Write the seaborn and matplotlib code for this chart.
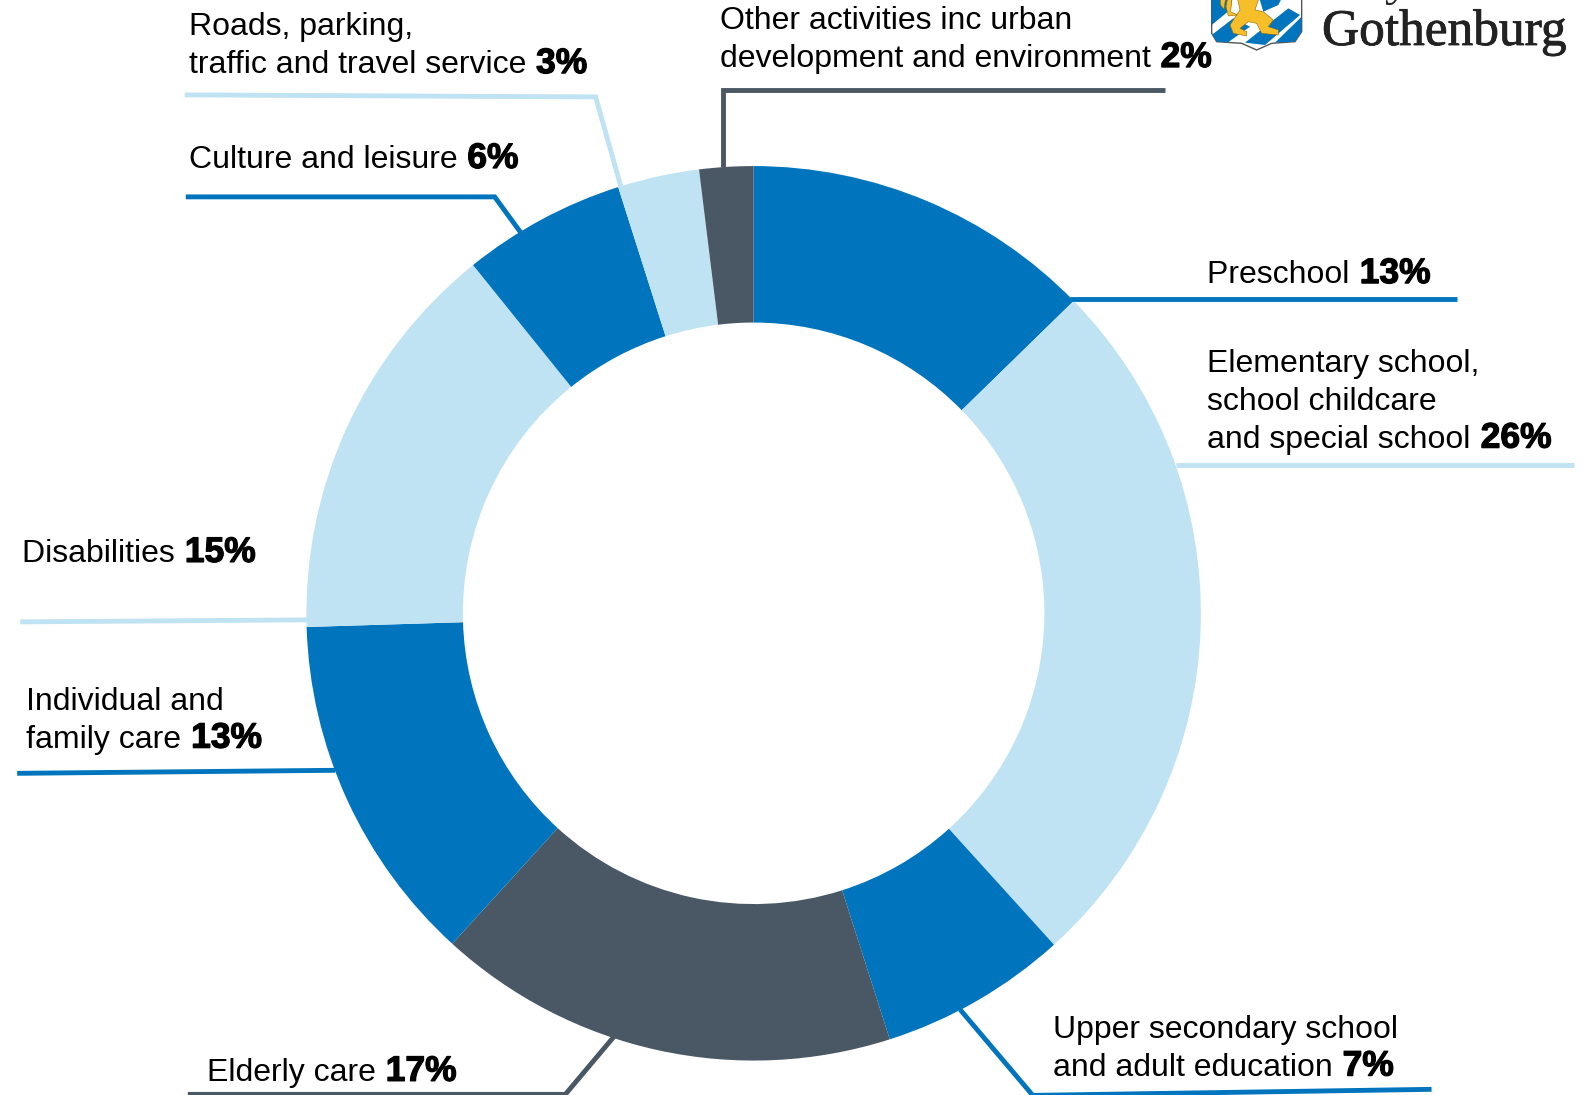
import matplotlib
matplotlib.use("Agg")
import matplotlib.pyplot as plt
import matplotlib.patheffects as pe
from matplotlib.patches import Polygon
import seaborn as sns

sns.set_theme(style="white")
plt.rcParams['font.family'] = ['Liberation Sans', 'DejaVu Sans']

# Data (printed labels below)
categories = ["Preschool", "Elementary school", "Upper secondary school", "Elderly care",
              "Individual and family care", "Disabilities", "Culture and leisure",
              "Roads, parking, traffic", "Other activities"]
values = [12.7, 25.6, 6.8, 16.7, 12.75, 14.7, 5.9, 2.95, 1.95]
pct_labels = ["13%", "26%", "7%", "17%", "13%", "15%", "6%", "3%", "2%"]
label_text = ["Preschool ", "Elementary school,\nschool childcare\nand special school ",
              "Upper secondary school\nand adult education ", "Elderly care ",
              "Individual and\nfamily care ", "Disabilities ", "Culture and leisure ",
              "Roads, parking,\ntraffic and travel service ",
              "Other activities inc urban\ndevelopment and environment "]

BLUE, LIGHT, DARK = "#0075BE", "#BFE3F3", "#4A5764"
palette = sns.color_palette([BLUE, LIGHT, BLUE, DARK, BLUE, LIGHT, BLUE, LIGHT, DARK])

W, H = 1583, 1095
S = 1583 / 1568
fig = plt.figure(figsize=(W / 100, H / 100), dpi=100, facecolor="white")

# Donut
cx, cy, R = 746.5 * S, 607.5 * S, 443 * S
ax = fig.add_axes([(cx - R) / W, 1 - (cy + R) / H, 2 * R / W, 2 * R / H])
ax.pie(values, colors=palette, startangle=90, counterclock=False, radius=1,
       wedgeprops=dict(width=155 / 443, linewidth=0))
ax.set_xlim(-1, 1)
ax.set_ylim(-1, 1)
ax.set_aspect("equal")
ax.axis("off")

# Overlay in pixel coordinates for leaders, labels, logo
ov = fig.add_axes([0, 0, 1, 1], facecolor="none")
ov.set_xlim(0, W)
ov.set_ylim(H, 0)
ov.axis("off")

leaders = [
    [(1060, 296), (1443, 296)],
    [(1165, 461), (1559, 461)],
    [(951, 1000), (1023, 1085), (1418, 1079)],
    [(608, 1027), (560, 1084), (186, 1084)],
    [(332, 763), (17, 766)],
    [(304, 614), (20, 616)],
    [(517, 232), (490, 195), (184, 195)],
    [(615, 185), (590, 96), (183, 94)],
    [(716, 165), (716, 89), (1154, 89)],
]
label_pos = [(1196, 280.4), (1196, 443.4), (1043, 1065.4), (205, 1070.6), (26, 740.6),
             (22, 556.6), (187, 166.4), (187, 72.4), (713, 66.4)]
FS = 23.0
for i, pts in enumerate(leaders):
    ov.plot([p[0] * S for p in pts], [p[1] * S for p in pts], color=palette[i],
            lw=3.5, solid_joinstyle="miter", solid_capstyle="butt")

for txt, pct, (x, y) in zip(label_text, pct_labels, label_pos):
    lines = txt.split("\n")
    step = 37.3 * S
    for k, line in enumerate(lines[:-1]):
        ov.text(x * S, (y - step / S * (len(lines) - 1 - k)) * S, line, fontsize=FS,
                color="black", va="baseline", ha="left")
    t = ov.text(x * S, y * S, lines[-1], fontsize=FS, color="black", va="baseline", ha="left")
    fig.canvas.draw()
    bb = t.get_window_extent()
    ov.text(x * S + bb.width + 1, y * S, pct, fontsize=25.5, fontweight="bold",
            color="black", va="baseline", ha="left",
            path_effects=[pe.withStroke(linewidth=0.9, foreground="black")])

# Logo: shield (cropped at the top of the picture) and name
def z(points):
    return [(1200 + a / 3, b / 3) for a, b in points]

shield = Polygon(z([(35, -15), (305, -15), (305, 95), (285, 125), (215, 130), (170, 150),
                    (125, 130), (50, 125), (35, 100)]),
                 closed=True, facecolor="white", edgecolor="#555555", lw=1, zorder=3)
ov.add_patch(shield)
stripes = [
    [(35, -15), (100, -15), (90, 30), (35, 75)],
    [(35, 105), (100, 55), (150, 80), (80, 130), (50, 125)],
    [(135, 128), (265, 25), (300, 45), (195, 135)],
    [(225, 128), (305, 50), (305, 95), (285, 125)],
    [(175, -15), (250, -15), (235, 15), (190, 35)],
]
for poly in stripes:
    p = Polygon(z(poly), closed=True, facecolor=BLUE, edgecolor="none", zorder=4)
    ov.add_patch(p)
    p.set_clip_path(shield)
lion_parts = [
    [(110, -15), (180, -15), (165, 30), (190, 35), (220, 60), (205, 80), (235, 90), (235, 105),
     (185, 100), (170, 70), (145, 65), (120, 85), (140, 95), (140, 108), (100, 100), (90, 75),
     (110, 45), (120, 30)],
    [(85, -15), (97, -15), (92, 35), (112, 45), (85, 48), (78, 20)],
    [(60, -15), (78, -15), (72, 28), (62, 15)],
]
for part in lion_parts:
    ov.add_patch(Polygon(z(part), closed=True, facecolor="#F6BE28", edgecolor="#8a6a10",
                         lw=0.4, zorder=5))
ov.text(1322, 45, "Gothenburg", family="Liberation Serif", fontsize=37, color="#222222",
        va="baseline", ha="left",
        path_effects=[pe.withStroke(linewidth=0.6, foreground="#222222")])
ov.text(1322, -6, "City of", family="Liberation Serif", fontsize=37, color="#222222",
        va="baseline", ha="left", clip_on=False)

fig.savefig("out.png", dpi=100, facecolor="white")
